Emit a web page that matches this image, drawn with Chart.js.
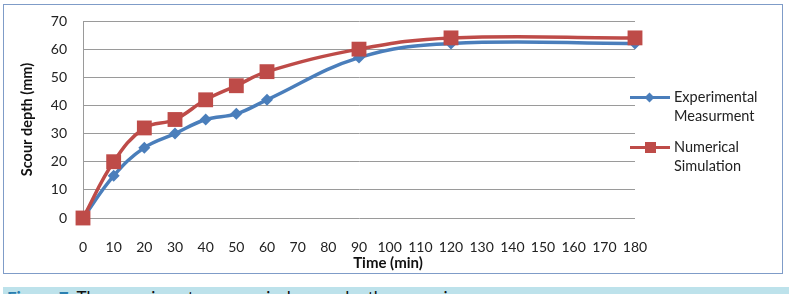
<!DOCTYPE html>
<html>
<head>
<meta charset="utf-8">
<script src="https://cdn.jsdelivr.net/npm/chart.js@4"></script>
<style>
  html, body { margin: 0; padding: 0; width: 801px; height: 294px; overflow: hidden; background: #fff; }
  body { position: relative; font-family: Lato, "Open Sans", sans-serif; color: #222; }
  #frame { position: absolute; left: 3px; top: 4px; width: 778px; height: 268px; border: 1px solid #7f9cc8; }
  #wrap { position: absolute; left: 0; top: 0; width: 801px; height: 294px; }
  #xTitle { position: absolute; left: 343px; top: 253px; width: 90px; text-align: center; font-weight: bold; font-size: 15px; color: #111; }
  .leg { position: absolute; left: 630px; font-size: 14.5px; line-height: 19px; }
  .leg .ln { position: absolute; left: 0; width: 40px; height: 3px; }
  .leg .tx { position: absolute; left: 44px; top: -10px; white-space: nowrap; }
  #caption { position: absolute; left: 3px; top: 287px; width: 782px; height: 20px; background: #bde2eb; font-size: 17px; padding-left: 4px; line-height: 22px; color: #111; }
  #caption b { color: #2a7fb0; }
</style>
</head>
<body>
<div id="frame"></div>
<div id="wrap"><canvas id="lineChart" width="801" height="294"></canvas></div>
<div id="xTitle">Time (min)</div>
<div class="leg" id="leg1" style="top:97px"></div>
<div class="leg" id="leg2" style="top:147px"></div>
<div id="caption"><b>Figure 7.</b> The experiment vs numerical scour depth comparison.</div>
<script>
const times = [0, 10, 20, 30, 40, 50, 60, 90, 120, 180];
const experimental = [0, 15, 25, 30, 35, 37, 42, 57, 62, 62];
const numerical = [0, 20, 32, 35, 42, 47, 52, 60, 64, 64];
const seriesNames = [["Experimental", "Measurment"], ["Numerical", "Simulation"]];
const xTicks = [0, 180, 10];   // min, max, step
const yTicks = [0, 70, 10];

const blue = "#4a7ebb";
const red = "#be4b48";

function pairs(ys) {
    return times.map((t, i) => ({ x: t, y: ys[i] }));
}

// html legend
function makeLegend(id, color, marker, names) {
    const el = document.getElementById(id);
    const ln = document.createElement("div");
    ln.className = "ln";
    ln.style.background = color;
    ln.style.top = "-1px";
    el.appendChild(ln);
    const m = document.createElement("div");
    m.style.position = "absolute";
    m.style.background = color;
    if (marker === "diamond") {
        m.style.width = "7px"; m.style.height = "7px";
        m.style.left = "16px"; m.style.top = "-3px";
        m.style.transform = "rotate(45deg)";
    } else {
        m.style.width = "11px"; m.style.height = "11px";
        m.style.left = "15px"; m.style.top = "-5px";
    }
    el.appendChild(m);
    const tx = document.createElement("div");
    tx.className = "tx";
    tx.innerHTML = names.join("<br>");
    el.appendChild(tx);
}
makeLegend("leg1", blue, "diamond", seriesNames[0]);
makeLegend("leg2", red, "square", seriesNames[1]);

const ctx = document.getElementById("lineChart").getContext("2d");
new Chart(ctx, {
    type: "line",
    data: {
        datasets: [
            {
                label: seriesNames[0].join(" "),
                data: pairs(experimental),
                borderColor: blue,
                backgroundColor: blue,
                borderWidth: 3.5,
                pointStyle: "rectRot",
                pointRadius: 6,
                pointBorderWidth: 0,
                tension: 0.4,
                clip: false,
                order: 1
            },
            {
                label: seriesNames[1].join(" "),
                data: pairs(numerical),
                borderColor: red,
                backgroundColor: red,
                borderWidth: 3.5,
                pointStyle: "rect",
                pointRadius: 10.5,
                pointBorderWidth: 0,
                tension: 0.4,
                clip: false,
                order: 0
            }
        ]
    },
    options: {
        responsive: false,
        animation: false,
        layout: { padding: { left: 19, right: 166, top: 21, bottom: 0 } },
        plugins: {
            legend: { display: false },
            tooltip: { enabled: false }
        },
        scales: {
            x: {
                type: "linear",
                min: xTicks[0],
                max: xTicks[1],
                grid: { display: false, drawTicks: false },
                border: { display: false },
                ticks: { stepSize: xTicks[2], padding: 21, color: "#222", font: { family: "Lato", size: 14 }, maxRotation: 0, autoSkip: false },
                afterFit: s => { s.height = 76; s.paddingLeft = 0; s.paddingRight = 0; }
            },
            y: {
                min: yTicks[0],
                max: yTicks[1],
                grid: { color: "#9a9a9a", drawTicks: false, lineWidth: 1 },
                border: { display: true, color: "#9a9a9a" },
                ticks: { stepSize: yTicks[2], padding: 16, color: "#222", font: { family: "Lato", size: 14 } },
                title: { display: true, text: "Scour depth (mm)", color: "#111", font: { family: "Lato", size: 14.5, weight: "bold" }, padding: 0 },
                afterFit: s => { s.width = 83 - 19; s.paddingTop = 0; s.paddingBottom = 0; }
            }
        }
    }
});
</script>
</body>
</html>
